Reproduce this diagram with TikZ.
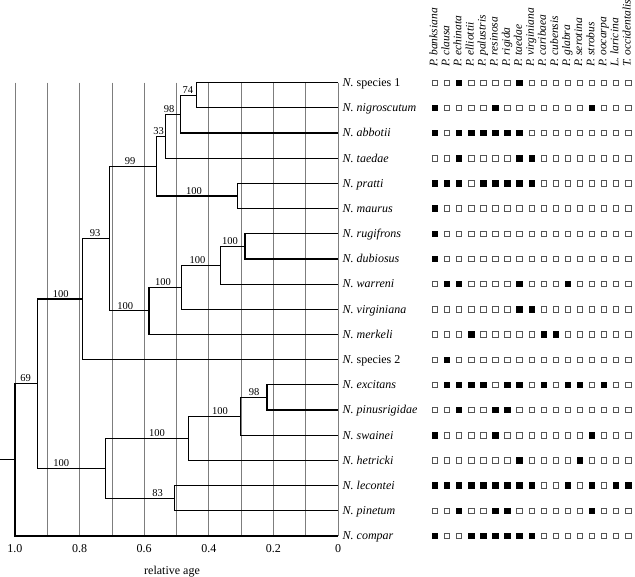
\documentclass[tikz,border=0pt]{standalone}
\usepackage{fontspec}
\setmainfont{Liberation Serif}
\usetikzlibrary{calc, positioning}
\definecolor{gridGray}{RGB}{125, 125, 125}
\definecolor{boxGray}{RGB}{85, 85, 85}

\newcommand{\agex}[1]{338-323*#1}
% inner node of the tree, halfway between its two children
\newcommand{\clade}[4]{%
  \path let \p1=(#3), \p2=(#4) in ({\agex{#2}},{0.5*(\y1+\y2)}) coordinate (#1);
  \draw[branch] (#3) -| (#1) |- (#4);%
}
\newcommand{\boot}[4]{%
  \node[supp] (b#1) at ($(#1 -| #2)!#3!(#1)$) {#4};%
}

\begin{document}
\begin{tikzpicture}[
        x=1pt, y=-1pt,
        branch/.style={line width=1.2pt, black},
        gridline/.style={line width=0.7pt, gridGray},
        taxon/.style={anchor=base west, inner sep=0pt, font=\fontsize{12}{14}\selectfont\itshape},
        host/.style={rotate=90, anchor=mid west, inner sep=0pt, font=\fontsize{11.5}{13}\selectfont\itshape},
        cell/.style={draw=boxGray, line width=0.8pt, minimum size=5.4pt, inner sep=0pt, fill=white},
        hit/.style={cell, draw=black, fill=black},
        supp/.style={above, inner sep=1.5pt, font=\fontsize{10.5}{12}\selectfont},
        agelabel/.style={inner sep=0pt, font=\fontsize{12}{14}\selectfont}
    ]
        \useasboundingbox (0,0) rectangle (635,577);

        \foreach \k in {0,...,10}
            \draw[gridline] ({15+32.3*\k}, 82.7) -- ({15+32.3*\k}, 536);

        \foreach \hn [count=\c] in {P. banksiana, P. clausa, P. echinata, P. elliottii, P. palustris, P. resinosa, P. rigida, P. taedae, P. virginiana, P. caribaea, P. cubensis, P. glabra, P. serotina, P. strobus, P. oocarpa, L. laricina, T. occidentalis}
            \node[host] (h\c) at ({422.9+12.08*\c}, 67) {\hn};

        \foreach \sp/\hits [count=\i] in {
            {N. \textup{species 1}}/{3,8},
            {N. nigroscutum}/{1,6,14},
            {N. abbotii}/{1,3,4,5,6,7,8},
            {N. taedae}/{3,8,9},
            {N. pratti}/{1,2,3,5,6,7,8,9},
            {N. maurus}/{1},
            {N. rugifrons}/{1},
            {N. dubiosus}/{1},
            {N. warreni}/{2,3,8,12},
            {N. virginiana}/{8,9},
            {N. merkeli}/{4,10,11},
            {N. \textup{species 2}}/{2},
            {N. excitans}/{2,3,4,5,7,8,10,12,13,15},
            {N. pinusrigidae}/{3,6,7},
            {N. swainei}/{1,6,14},
            {N. hetricki}/{8,13},
            {N. lecontei}/{1,2,3,4,5,6,7,8,9,12,14,16,17},
            {N. pinetum}/{3,6,7,14},
            {N. compar}/{1,4,5,6,7,8,9}} {
            \coordinate (t\i) at (338, {82.7+25.18*(\i-1)});
            \node[taxon] (s\i) at ($(t\i)+(4.5,3.8)$) {\sp};
            \foreach \c in {1,...,17}
                \node[cell] (m\i-\c) at ({422.9+12.08*\c}, {82.7+25.18*(\i-1)}) {};
            \foreach \c in \hits
                \node[hit] (f\i-\c) at (m\i-\c) {};
        }

        \clade{n74}{0.438}{t1}{t2}
        \clade{n98a}{0.488}{n74}{t3}
        \clade{n33}{0.533}{n98a}{t4}
        \clade{n100a}{0.31}{t5}{t6}
        \clade{n99}{0.562}{n33}{n100a}
        \clade{n100b}{0.288}{t7}{t8}
        \clade{n100c}{0.364}{n100b}{t9}
        \clade{n100d}{0.484}{n100c}{t10}
        \clade{n100e}{0.585}{n100d}{t11}
        \clade{n93}{0.708}{n99}{n100e}
        \clade{n100f}{0.79}{n93}{t12}
        \clade{n98b}{0.22}{t13}{t14}
        \clade{n100g}{0.303}{n98b}{t15}
        \clade{n100h}{0.463}{n100g}{t16}
        \clade{n83}{0.505}{t17}{t18}
        \clade{n100i}{0.72}{n100h}{n83}
        \clade{n69}{0.93}{n100f}{n100i}
        \clade{root}{1.0}{n69}{t19}
        \draw[branch] (root) -- (root -| 0,0);

        \boot{n74}{n98a}{0.47}{74}
        \boot{n98a}{n33}{0.23}{98}
        \boot{n33}{n99}{0.23}{33}
        \boot{n100a}{n99}{0.46}{100}
        \boot{n99}{n93}{0.44}{99}
        \boot{n100b}{n100c}{0.39}{100}
        \boot{n100c}{n100d}{0.41}{100}
        \boot{n100d}{n100e}{0.43}{100}
        \boot{n100e}{n93}{0.40}{100}
        \boot{n93}{n100f}{0.46}{93}
        \boot{n100f}{n69}{0.51}{100}
        \boot{n98b}{n100g}{0.52}{98}
        \boot{n100g}{n100h}{0.61}{100}
        \boot{n100h}{n100i}{0.62}{100}
        \boot{n83}{n100i}{0.75}{83}
        \boot{n100i}{n69}{0.35}{100}
        \boot{n69}{root}{0.47}{69}

        \foreach \a [count=\k] in {1.0, 0.8, 0.6, 0.4, 0.2, 0}
            \node[agelabel] (a\k) at ({\agex{\a}}, 549) {\a};
        \node[agelabel] (axis) at (172, 572) {relative age};
    \end{tikzpicture}
\end{document}
